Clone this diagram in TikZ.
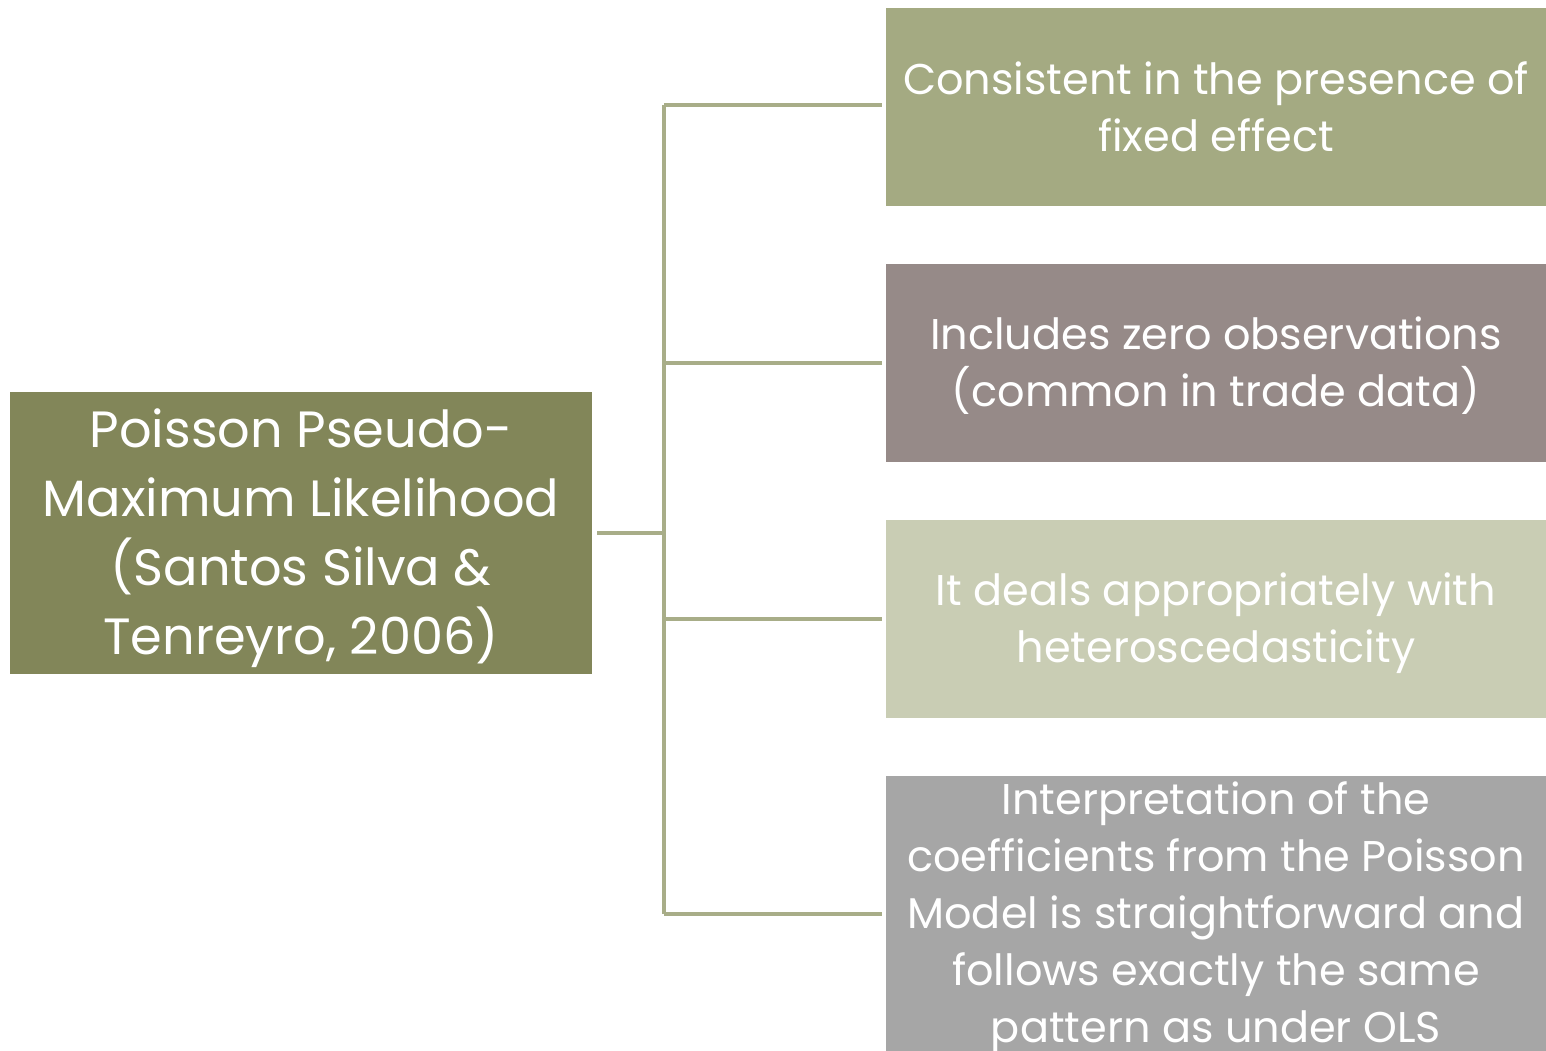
\documentclass[tikz,border=0pt]{standalone}
\usepackage{fontspec}
\setmainfont{Poppins}
\definecolor{cMain}{HTML}{828659}
\definecolor{cOne}{HTML}{A4AA82}
\definecolor{cTwo}{HTML}{968A88}
\definecolor{cThree}{HTML}{C9CDB4}
\definecolor{cFour}{HTML}{A6A6A6}
\definecolor{cLine}{HTML}{A8AD88}
\begin{document}
\begin{tikzpicture}[x=1pt,y=-1pt,
  box/.style={rectangle, inner sep=0pt},
  mainbox/.style={box, fill=cMain, minimum width=582pt, minimum height=282pt},
  sidebox/.style={box, minimum width=660pt, minimum height=198pt},
  maintext/.style={inner sep=0pt, text=white, align=center, font=\fontsize{51}{69}\selectfont},
  sidetext/.style={inner sep=0pt, text=white, align=center, font=\fontsize{43}{57}\selectfont},
  link/.style={draw=cLine, line width=4pt}]
\useasboundingbox (0,0) rectangle (1546,1051);
\clip (0,0) rectangle (1546,1051);
\node[mainbox] (main) at (301,533) {};
\node[sidebox, fill=cOne] (r1) at (1216,107) {};
\node[sidebox, fill=cTwo] (r2) at (1216,363) {};
\node[sidebox, fill=cThree] (r3) at (1216,619) {};
\node[sidebox, fill=cFour, minimum height=276pt] (r4) at (1216,914) {};
\node[maintext] (t0) at ([yshift=-5pt]main.center) {Poisson Pseudo-\\Maximum Likelihood\\(Santos Silva \&\\Tenreyro, 2006)};
\node[sidetext] (t1) at ([yshift=0pt]r1.center) {Consistent in the presence of\\fixed effect};
\node[sidetext] (t2) at ([yshift=-3pt]r2.center) {Includes zero observations\\(common in trade data)};
\node[sidetext] (t3) at ([yshift=-4pt]r3.center) {It deals appropriately with\\heteroscedasticity};
\node[sidetext] (t4) at ([yshift=-4pt]r4.center) {Interpretation of the\\coefficients from the Poisson\\Model is straightforward and\\follows exactly the same\\pattern as under OLS};
\coordinate (hub) at (664,533);
\coordinate (top) at (664,105);
\coordinate (bot) at (664,914);
\draw[link, shorten <=5pt] (main.east) -- (hub);
\draw[link] (top) -- (bot);
\draw[link, shorten >=4pt] (top) -- (r1.west |- top);
\draw[link, shorten >=4pt] (hub |- r2.west) -- (r2.west);
\draw[link, shorten >=4pt] (hub |- r3.west) -- (r3.west);
\draw[link, shorten >=4pt] (bot) -- (r4.west);
\end{tikzpicture}
\end{document}
